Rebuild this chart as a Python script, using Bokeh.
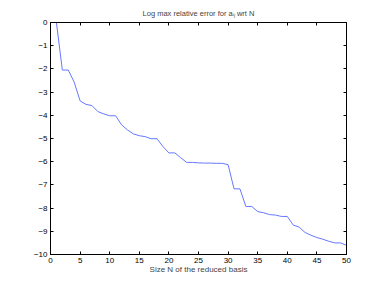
from bokeh.plotting import figure
from bokeh.embed import file_html
from bokeh.resources import INLINE
from bokeh.models import LinearAxis, FixedTicker

# Data
N = list(range(1, 51))
log_err = [0.0, -2.05, -2.05, -2.57, -3.38, -3.53, -3.58, -3.84, -3.94, -4.02,
           -4.02, -4.41, -4.63, -4.80, -4.88, -4.92, -5.01, -5.01, -5.35, -5.62,
           -5.62, -5.83, -6.03, -6.03, -6.05, -6.06, -6.06, -6.07, -6.07, -6.13,
           -7.17, -7.17, -7.93, -7.93, -8.15, -8.20, -8.28, -8.30, -8.36, -8.36,
           -8.73, -8.82, -9.05, -9.17, -9.27, -9.34, -9.43, -9.50, -9.50, -9.60]
x_ticks = [0, 5, 10, 15, 20, 25, 30, 35, 40, 45, 50]
y_ticks = [0, -1, -2, -3, -4, -5, -6, -7, -8, -9, -10]
title_text = "Log max relative error for a\u1d62\u2c7c wrt N"
x_label = "Size N of the reduced basis"

FONT = "Liberation Sans"

p = figure(width=374, height=279, output_backend="svg", toolbar_location=None,
           x_range=(0, 50), y_range=(-10, 0),
           min_border_left=50, min_border_right=28, min_border_top=22, min_border_bottom=25,
           x_axis_location=None, y_axis_location=None)
p.title.text = title_text
p.title.align = "center"
p.title.text_font = FONT
p.title.text_font_size = "7.5px"
p.title.text_font_style = "normal"
p.title.standoff = 10
p.title.offset = 0

p.outline_line_color = "black"
p.outline_line_width = 1
p.xgrid.visible = False
p.ygrid.visible = False
p.background_fill_color = "white"
p.border_fill_color = "white"

def style(ax, ticks, labels=True):
    ax.ticker = FixedTicker(ticks=ticks)
    ax.major_tick_in = 3
    ax.major_tick_out = 0
    ax.minor_tick_in = 0
    ax.minor_tick_out = 0
    ax.axis_line_color = "black"
    ax.major_tick_line_color = "black"
    ax.major_label_text_font = FONT
    ax.major_label_text_font_size = "8px"
    ax.major_label_text_color = "black"
    ax.major_label_standoff = 3
    ax.axis_label_text_font = FONT
    ax.axis_label_text_font_size = "8px"
    ax.axis_label_text_font_style = "normal"
    ax.axis_label_standoff = -1
    if not labels:
        ax.major_label_overrides = {t: "" for t in ticks}
        ax.major_label_standoff = 0

xb = LinearAxis(axis_label=x_label)
style(xb, x_ticks)
xt = LinearAxis()
style(xt, x_ticks, labels=False)
yl = LinearAxis()
style(yl, y_ticks)
yl.major_label_overrides = {t: ("\u2212" + str(-t) if t < 0 else str(t)) for t in y_ticks}
yr = LinearAxis()
style(yr, y_ticks, labels=False)

p.add_layout(xb, "below")
p.add_layout(xt, "above")
p.add_layout(yl, "left")
p.add_layout(yr, "right")

p.line(N, log_err, line_color="#6678ff", line_width=1)

open("out.html", "w").write(file_html(p, INLINE))
